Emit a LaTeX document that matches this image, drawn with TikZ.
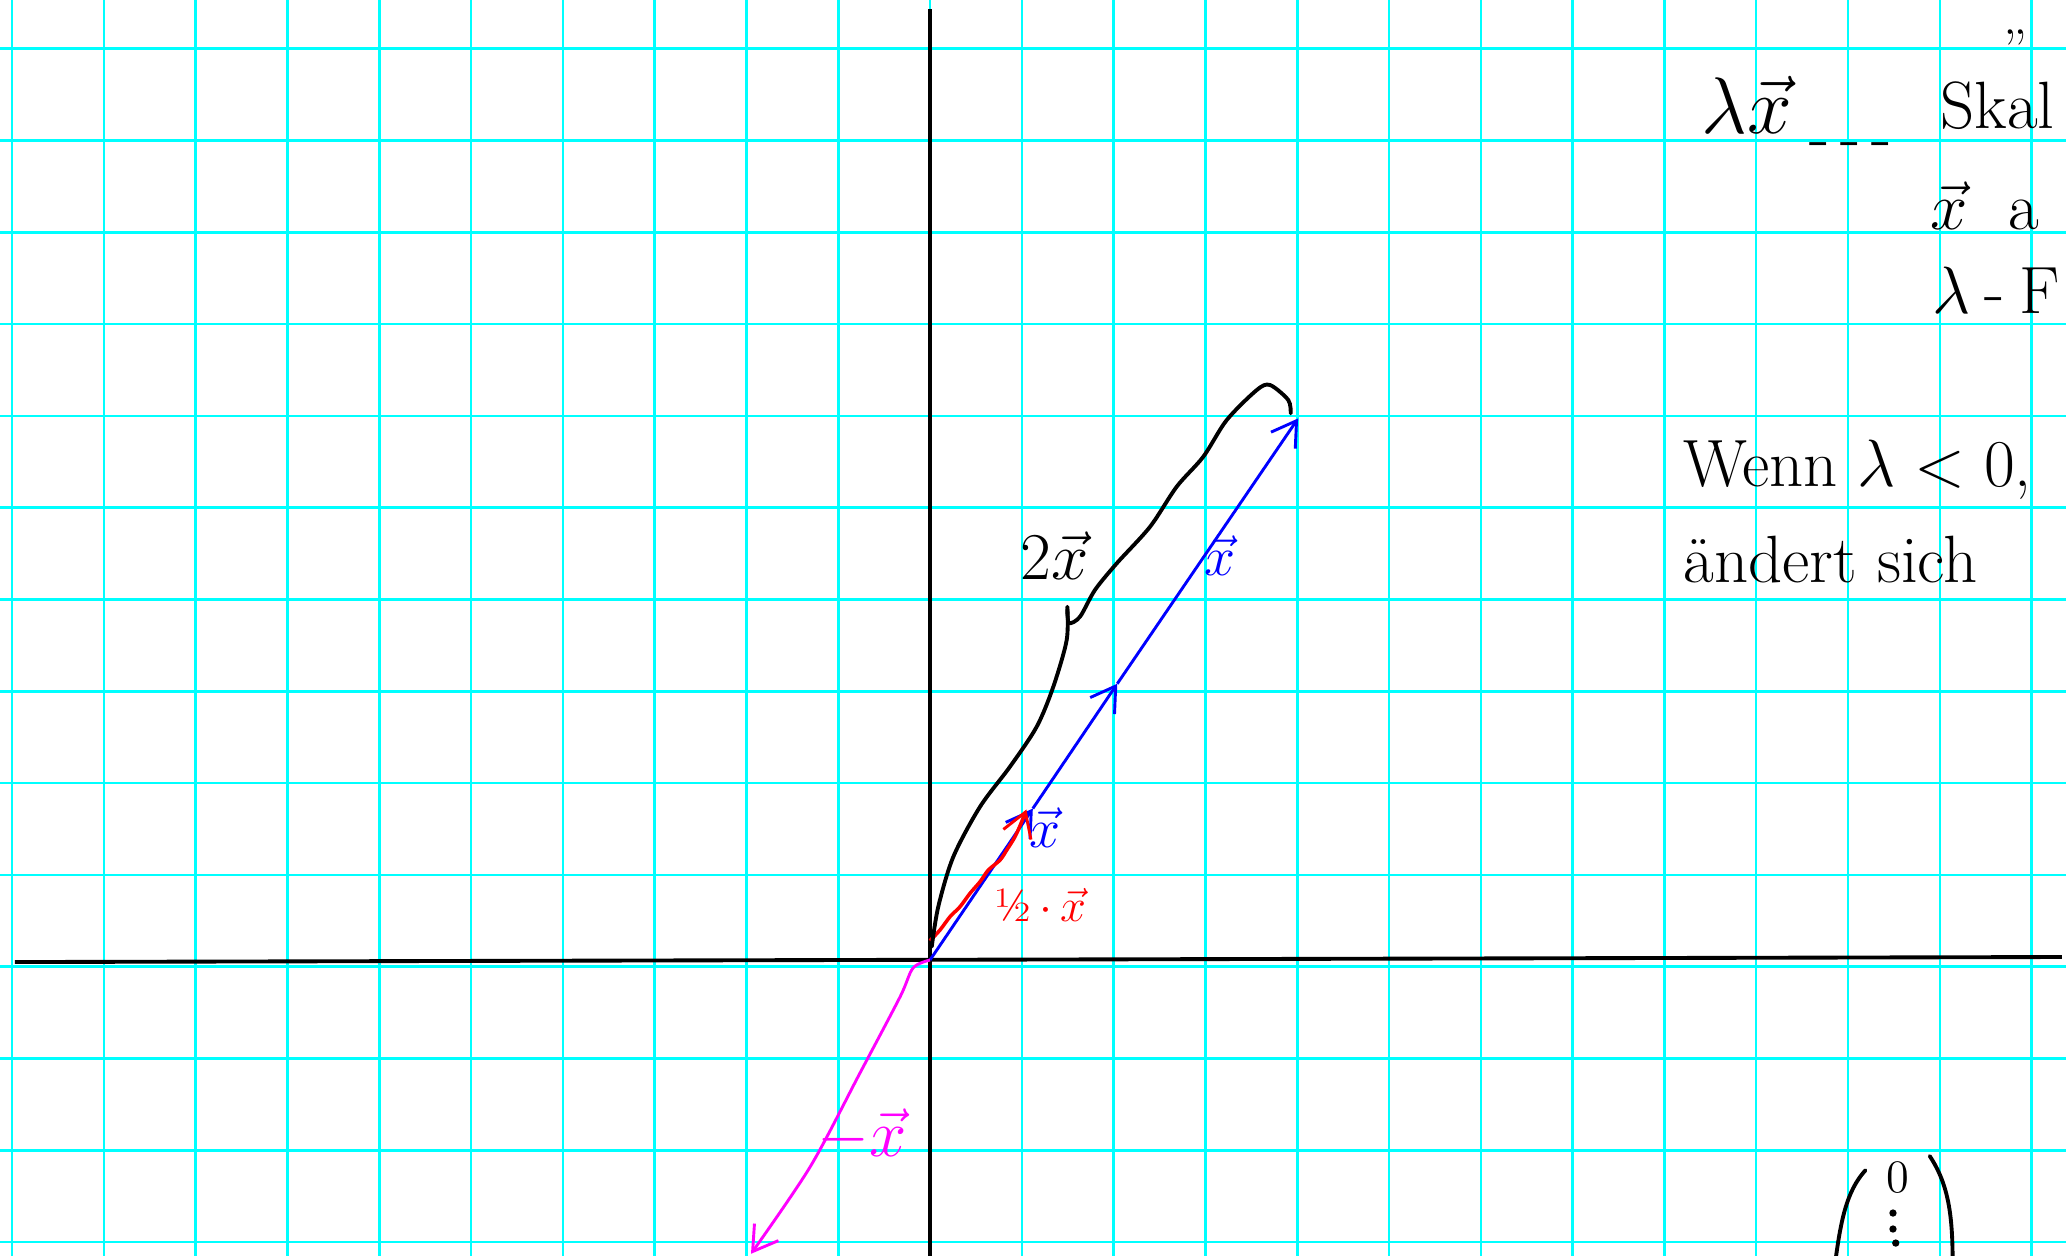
\documentclass[tikz,border=0pt]{standalone}
\usepackage{amsmath, amssymb}
\usepackage{tikz}
\usetikzlibrary{arrows, arrows.meta}
\definecolor{gridcyan}{RGB}{0,255,255}
\definecolor{negmag}{RGB}{255,0,255}
\definecolor{vecblue}{RGB}{0,0,255}
\definecolor{vecred}{RGB}{255,0,0}

\begin{document}
\begin{tikzpicture}[
	gridline/.style={gridcyan, line width=0.8pt},
	axis/.style={black, line width=1.2pt},
	barb/.style={-{Straight Barb[length=2.6mm, width=3.2mm, line width=0.9pt]}},
	bluevec/.style={vecblue, line width=0.9pt},
	redvec/.style={vecred, line width=1.1pt},
	twovec/.style={black, line width=1.2pt, line cap=round},
	negvec/.style={negmag, line width=0.9pt},
	paren/.style={black, line width=1.2pt, line cap=round},
	note/.style={inner sep=0pt, anchor=west},
	]
			\useasboundingbox (-10.131,-3.224) rectangle (12.375,10.458);
			\clip (-10.131,-3.224) rectangle (12.375,10.458);
			\foreach \i in {-10,...,12} \draw[gridline] (\i,-3.3) -- (\i,10.5);
			\foreach \j in {-3,...,10} \draw[gridline] (-10.2,{\j-0.073}) -- (12.4,{\j-0.073});
			\coordinate (xl) at (-9.97,-0.022);
			\coordinate (xr) at (12.33,0.033);
			\coordinate (yt) at (0,10.36);
			\coordinate (yb) at (0,-3.3);
			\draw[axis] (xl) -- (xr);
			\draw[axis] (yb) -- (yt);
			\coordinate (O) at (0,0);
			\coordinate (A1) at (1.12,1.65);
			\coordinate (A2) at (2.04,3.01);
			\coordinate (T) at (4.01,5.90);
			\draw[bluevec, barb] (O) -- (A1);
			\draw[bluevec, barb] (A1) -- (A2);
			\draw[bluevec, barb] (A2) -- (T);
			\coordinate (R0) at (0,0.21);
			\coordinate (R1) at (1.05,1.64);
			\draw[redvec, barb] plot[smooth] coordinates {(R0) (0.109,0.327) (0.218,0.472) (0.327,0.581) (0.436,0.727) (0.545,0.853) (0.635,0.98) (0.763,1.089) (0.836,1.198) (0.926,1.343) (0.999,1.507) (R1)};
			\coordinate (B0) at (0.019,0.145);
			\coordinate (B1) at (3.929,5.955);
			\draw[twovec] plot[smooth] coordinates {(B0) (0.09,0.581) (0.254,1.125) (0.545,1.67) (0.871,2.106) (1.162,2.541) (1.343,2.977) (1.489,3.486) (1.496,3.849)};
			\draw[twovec] plot[smooth] coordinates {(1.496,3.82) (1.514,3.671) (1.634,3.74) (1.797,4.031) (2.034,4.321) (2.397,4.72) (2.687,5.156) (2.977,5.483) (3.232,5.882) (3.559,6.209) (3.704,6.264) (3.903,6.1) (B1)};
			\coordinate (M1) at (-1.95,-3.2);
			\draw[negvec, barb] plot[smooth] coordinates {(O) (-0.185,-0.087) (-0.327,-0.403) (-0.763,-1.231) (-1.307,-2.255) (M1)};
			\node[vecblue] (lx1) at (1.25,1.44) {\LARGE $\vec{x}$};
			\node[vecblue] (lx2) at (3.16,4.41) {\LARGE $\vec{x}$};
			\node (l2x) at (1.36,4.41) {\huge $2\vec{x}$};
			\node[vecred] (lhalf) at (1.20,0.60) {\Large \textonehalf\,$\cdot\,\vec{x}$};
			\node[negmag] (lneg) at (-0.74,-1.91) {\huge $-\vec{x}$};
			\node[inner sep=0pt] (ditto) at (11.83,9.92) {\LARGE ''};
			\node[note] (lamx) at (8.4,9.31) {\Huge $\lambda\vec{x}$};
			\node (dash) at (10.03,8.82) {\huge -\,-\,-};
			\node[note] (skal) at (11.0,9.31) {\huge Skal};
			\node[note] (xan) at (10.89,8.22) {\huge $\vec{x}$\ \ a};
			\node[note] (lfa) at (10.91,7.30) {\huge $\lambda$\hspace{0.15cm}-\hspace{0.17cm}F};
			\node[note] (wenn) at (8.2,5.34) {\huge Wenn $\lambda<0$,};
			\node[note] (andert) at (8.2,4.36) {\huge \"andert sich};
			\node[inner sep=0pt] (zero) at (10.54,-2.37) {\Large $0$};
			\foreach \p in {(10.49,-2.756), (10.49,-2.93), (10.52,-3.083)} \fill \p circle (0.04);
			\coordinate (pl0) at (10.19,-2.29);
			\coordinate (pl1) at (9.86,-3.30);
			\coordinate (pr0) at (10.89,-2.135);
			\coordinate (pr1) at (11.14,-3.30);
			\draw[paren] (pl0) .. controls (9.98,-2.52) and (9.92,-2.85) .. (pl1);
			\draw[paren] (pr0) .. controls (11.10,-2.45) and (11.14,-2.80) .. (pr1);
\end{tikzpicture}
\end{document}
